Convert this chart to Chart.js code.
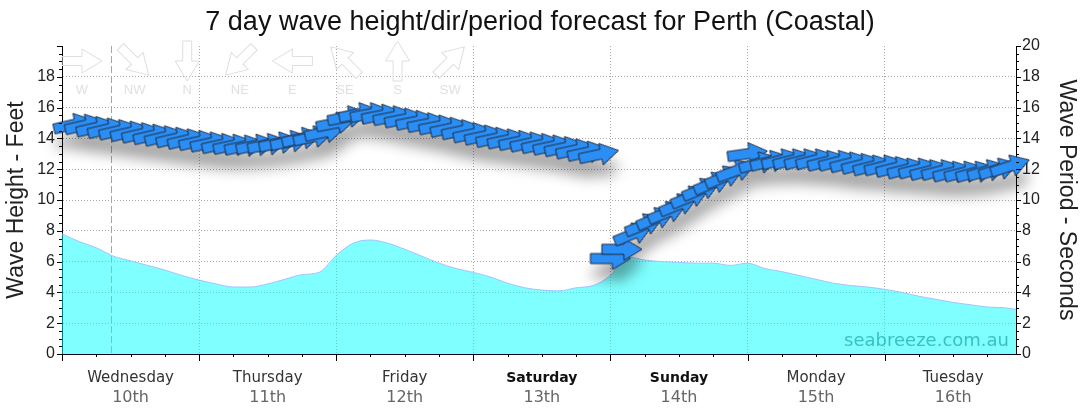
<!DOCTYPE html>
<html><head><meta charset="utf-8">
<script src="https://cdn.jsdelivr.net/npm/chart.js@4/dist/chart.umd.min.js"></script>
<style>html,body{margin:0;padding:0;background:#fff;overflow:hidden}#wrap{width:1080px;height:414px;position:relative}</style>
</head><body><div id="wrap"><canvas id="c" width="1080" height="414"></canvas></div>
<script>
const TITLE = '7 day wave height/dir/period forecast for Perth (Coastal)';
const LEFT_TITLE = 'Wave Height - Feet';
const RIGHT_TITLE = 'Wave Period - Seconds';
const WATERMARK = 'seabreeze.com.au';
const dayNames = ['Wednesday','Thursday','Friday','Saturday','Sunday','Monday','Tuesday'];
const dayDates = ['10th','11th','12th','13th','14th','15th','16th'];
const weekendDays = ['Saturday','Sunday'];
const NOW_HOUR = 8.6;
const compassLabels = ['W','NW','N','NE','E','SE','S','SW'];
const compassDirs = [270,315,0,45,90,135,180,225];
const yTickValues = [0,2,4,6,8,10,12,14,16,18,20];

// wave height (feet) vs hours from start of Wednesday
const heightHours = [0,3,6,9,12,15,18,21,24,27,30,33,36,39,42,45,48,51,54,57,60,63,66,69,72,75,78,81,84,87,90,93,96,99,102,105,108,111,114,117,120,123,126,129,132,135,138,141,144,147,150,153,156,159,162,165,167];
const waveHeightFt = [7.8,7.3,6.9,6.35,6.05,5.75,5.45,5.1,4.8,4.55,4.35,4.35,4.55,4.85,5.15,5.3,6.4,7.2,7.4,7.2,6.8,6.35,5.9,5.55,5.3,5.0,4.6,4.3,4.15,4.1,4.3,4.45,5.1,6.3,6.1,6.0,5.95,5.9,5.9,5.75,5.9,5.55,5.35,5.1,4.85,4.6,4.45,4.35,4.2,4.0,3.75,3.55,3.35,3.2,3.05,3.0,2.9];

// wave period (seconds) and direction (degrees, coming from)
const arrowHours = [2,4,6,8,10,12,14,16,18,20,22,24,26,28,30,32,34,36,38,40,42,44,46,48,50,52,54,56,58,60,62,64,66,68,70,72,74,76,78,80,82,84,86,88,90,92,94,
  96,98,100,102,104,106,108,110,112,114,116,118,120,122,124,126,128,130,132,134,136,138,140,142,144,146,148,150,152,154,156,158,160,162,164,166];
const wavePeriodSec = [14.9,14.85,14.7,14.6,14.5,14.4,14.3,14.2,14.1,14.0,13.9,13.8,13.7,13.6,13.55,13.5,13.55,13.6,13.7,13.8,14.0,14.1,14.4,15.0,15.4,15.6,15.6,15.5,15.4,15.25,15.1,14.95,14.8,14.65,14.5,14.3,14.15,14.0,13.9,13.8,13.7,13.6,13.5,13.4,13.25,13.1,12.95,
  6.2,6.8,7.8,8.4,8.8,9.2,9.7,10.2,10.7,11.1,11.5,11.9,13.0,12.4,12.5,12.6,12.6,12.6,12.6,12.5,12.5,12.4,12.3,12.2,12.2,12.1,12.0,12.0,11.9,11.9,11.8,11.8,11.8,11.9,12.0,12.2];
const waveDirDeg = [257,257,257,257,257,257,257,257,257,257,257,258,258,258,258,258,258,258,258,258,258,258,258,259,259,259,259,259,259,259,259,259,259,258,258,258,258,258,258,258,258,258,258,258,258,258,258,
  270,270,248,248,248,248,248,248,248,248,248,250,262,254,256,256,256,256,256,256,256,256,256,256,256,256,256,256,256,256,256,256,255,254,253,252];

const ARROW = {len: 40, shaft: 10, headW: 22, headL: 18};
function arrowPoly(len, shaft, headW, headL) {
  const x0 = -len/2, x1 = len/2 - headL, x2 = len/2;
  return [[x0,-shaft/2],[x1,-shaft/2],[x1,-headW/2],[x2,0],[x1,headW/2],[x1,shaft/2],[x0,shaft/2]];
}
function makeArrowImage(fill, stroke) {
  const pad = 2;
  const c = document.createElement('canvas');
  c.width = ARROW.len + pad*2; c.height = ARROW.headW + pad*2;
  const g = c.getContext('2d');
  const pts = arrowPoly(ARROW.len, ARROW.shaft, ARROW.headW, ARROW.headL);
  g.translate(c.width/2, c.height/2);
  g.beginPath();
  pts.forEach((p,i)=> i ? g.lineTo(p[0],p[1]) : g.moveTo(p[0],p[1]));
  g.closePath();
  g.fillStyle = fill; g.fill();
  g.lineWidth = 1; g.strokeStyle = stroke; g.stroke();
  return c;
}
const arrowImg = makeArrowImage('#2b8ef5', '#1d2c44');
const rotOf = d => ((d + 90) % 360);

const decor = {
  id: 'decor',
  beforeDraw(chart) {
    const ctx = chart.ctx;
    ctx.save(); ctx.fillStyle = '#fff'; ctx.fillRect(0,0,chart.width,chart.height); ctx.restore();
  },
  beforeDatasetsDraw(chart) {
    const ctx = chart.ctx, x = chart.scales.x, a = chart.chartArea;
    // now line
    ctx.save();
    ctx.strokeStyle = '#ff7f7f'; ctx.lineWidth = 1; ctx.setLineDash([7,3]);
    const nx = Math.round(x.getPixelForValue(NOW_HOUR)) + 0.5;
    ctx.beginPath(); ctx.moveTo(nx, a.top); ctx.lineTo(nx, a.bottom); ctx.stroke();
    ctx.restore();
    // compass legend
    ctx.save();
    const pts = arrowPoly(40, 9, 24, 20);
    compassLabels.forEach((lab, i) => {
      const cx = 82 + 52.6*i, cy = 61;
      ctx.save();
      ctx.translate(cx, cy); ctx.rotate(rotOf(compassDirs[i]) * Math.PI/180);
      ctx.beginPath(); pts.forEach((p,k)=> k ? ctx.lineTo(p[0],p[1]) : ctx.moveTo(p[0],p[1])); ctx.closePath();
      ctx.strokeStyle = '#dedede'; ctx.lineWidth = 1; ctx.stroke();
      ctx.restore();
      ctx.fillStyle = '#e0e0e0'; ctx.font = '13px "Liberation Sans", Arial, sans-serif';
      ctx.textAlign = 'center'; ctx.textBaseline = 'middle';
      ctx.fillText(lab, cx, 90);
    });
    ctx.restore();
  },
  beforeDatasetDraw(chart, args) {
    if (args.index !== 1) return;
    const ctx = chart.ctx, meta = chart.getDatasetMeta(1);
    const pts = arrowPoly(ARROW.len, ARROW.shaft, ARROW.headW, ARROW.headL);
    ctx.save();
    ctx.shadowColor = 'rgba(0,0,0,0.36)'; ctx.shadowBlur = 14;
    ctx.shadowOffsetX = 10002; ctx.shadowOffsetY = 15;
    ctx.beginPath();
    meta.data.forEach((el, i) => {
      const r = rotOf(waveDirDeg[i]) * Math.PI/180, c = Math.cos(r), s = Math.sin(r);
      pts.forEach((p,k) => {
        const X = el.x - 10000 + p[0]*c - p[1]*s, Y = el.y + p[0]*s + p[1]*c;
        k ? ctx.lineTo(X,Y) : ctx.moveTo(X,Y);
      });
      ctx.closePath();
    });
    ctx.fillStyle = '#000'; ctx.fill('nonzero');
    ctx.restore();
  },
  afterDraw(chart) {
    const ctx = chart.ctx, x = chart.scales.x, y = chart.scales.y, y1 = chart.scales.y1, a = chart.chartArea;
    ctx.save();
    // tick marks
    ctx.strokeStyle = '#000'; ctx.lineWidth = 1;
    ctx.beginPath();
    for (let v = 0; v <= 20; v += 0.5) {
      const len = (v % 2 === 0) ? 5 : 3;
      const py = Math.round(y.getPixelForValue(v)) + 0.5;
      ctx.moveTo(a.left, py); ctx.lineTo(a.left - len, py);
      const py1 = Math.round(y1.getPixelForValue(v)) + 0.5;
      ctx.moveTo(a.right, py1); ctx.lineTo(a.right + len, py1);
    }
    for (let h = 0; h <= 167; h += 6) {
      const len = (h % 24 === 0) ? 7 : 3;
      const px = Math.round(x.getPixelForValue(h)) + 0.5;
      ctx.moveTo(px, a.bottom); ctx.lineTo(px, a.bottom + len);
    }
    ctx.stroke();
    // day labels
    ctx.textAlign = 'center'; ctx.textBaseline = 'alphabetic';
    dayNames.forEach((d, i) => {
      const cx = x.getPixelForValue(24*i + 12);
      const we = weekendDays.includes(d);
      ctx.fillStyle = we ? '#111' : '#333';
      ctx.font = (we ? 'bold 14px' : '15px') + ' "DejaVu Sans", Verdana, sans-serif';
      ctx.fillText(d, cx, 382);
      ctx.fillStyle = '#666';
      ctx.font = '16px "DejaVu Sans", Verdana, sans-serif';
      ctx.fillText(dayDates[i], cx, 402);
    });
    // watermark
    ctx.textAlign = 'right';
    ctx.fillStyle = 'rgba(0,140,140,0.55)';
    ctx.font = '18px "DejaVu Sans", Verdana, sans-serif';
    ctx.fillText(WATERMARK, 1009, 346);
    // title
    ctx.textAlign = 'center'; ctx.textBaseline = 'middle';
    ctx.fillStyle = '#111';
    ctx.font = '27px "Liberation Sans", Arial, sans-serif';
    ctx.fillText(TITLE, 540, 23);
    // axis titles
    ctx.font = '23px "Liberation Sans", Arial, sans-serif';
    ctx.fillStyle = '#222';
    ctx.save(); ctx.translate(17, (a.top + a.bottom)/2); ctx.rotate(-Math.PI/2); ctx.fillText(LEFT_TITLE, 0, 0); ctx.restore();
    ctx.save(); ctx.translate(1066, (a.top + a.bottom)/2); ctx.rotate(Math.PI/2); ctx.fillText(RIGHT_TITLE, 0, 0); ctx.restore();
    ctx.restore();
  }
};

const tickFont = {family: '"Liberation Sans", Arial, sans-serif', size: 16};
new Chart(document.getElementById('c'), {
  data: {
    datasets: [
      {
        type: 'line', label: 'Wave height', order: 2, yAxisID: 'y',
        data: heightHours.map((h, i) => ({x: h, y: waveHeightFt[i]})),
        fill: 'origin', backgroundColor: 'rgba(0,255,255,0.5)', borderColor: '#a0c4ff', borderWidth: 1,
        pointRadius: 0, cubicInterpolationMode: 'monotone'
      },
      {
        type: 'scatter', label: 'Wave period', order: 1, yAxisID: 'y1', clip: false,
        data: arrowHours.map((h, i) => ({x: h, y: wavePeriodSec[i]})),
        pointStyle: arrowImg, pointRadius: 10, pointHoverRadius: 10,
        pointRotation: (c) => rotOf(waveDirDeg[c.dataIndex] || 0)
      }
    ]
  },
  options: {
    responsive: false, animation: false, events: [],
    layout: {padding: {top: 46, left: 0, right: 0, bottom: 0}},
    plugins: {legend: {display: false}, tooltip: {enabled: false}, title: {display: false}},
    scales: {
      x: {
        type: 'linear', min: 0, max: 167,
        afterBuildTicks: (s) => { s.ticks = [24,48,72,96,120,144].map(v => ({value: v})); },
        afterFit: (s) => { s.height = 60; },
        ticks: {display: false},
        grid: {color: (c) => (c.tick && c.tick.value > 0 && c.tick.value < 167) ? '#a8a8a8' : 'rgba(0,0,0,0)', drawTicks: false},
        border: {color: '#000033', width: 1, dash: [1,2]}
      },
      y: {
        position: 'left', min: 0, max: 20,
        afterBuildTicks: (s) => { s.ticks = yTickValues.map(v => ({value: v})); },
        afterFit: (s) => { s.width = 62; },
        ticks: {font: tickFont, color: '#222', padding: 7, callback: (v) => v === 20 ? '' : v},
        grid: {color: (c) => (c.tick && c.tick.value > 0 && c.tick.value < 20) ? '#a8a8a8' : 'rgba(0,0,0,0)', drawTicks: false},
        border: {color: '#000', width: 1, dash: [1,2]}
      },
      y1: {
        position: 'right', min: 0, max: 20,
        afterBuildTicks: (s) => { s.ticks = yTickValues.map(v => ({value: v})); },
        afterFit: (s) => { s.width = 64; },
        ticks: {font: tickFont, color: '#222', padding: 6},
        grid: {drawOnChartArea: false, drawTicks: false},
        border: {color: '#000', width: 1}
      }
    }
  },
  plugins: [decor]
});
</script>
</body></html>
